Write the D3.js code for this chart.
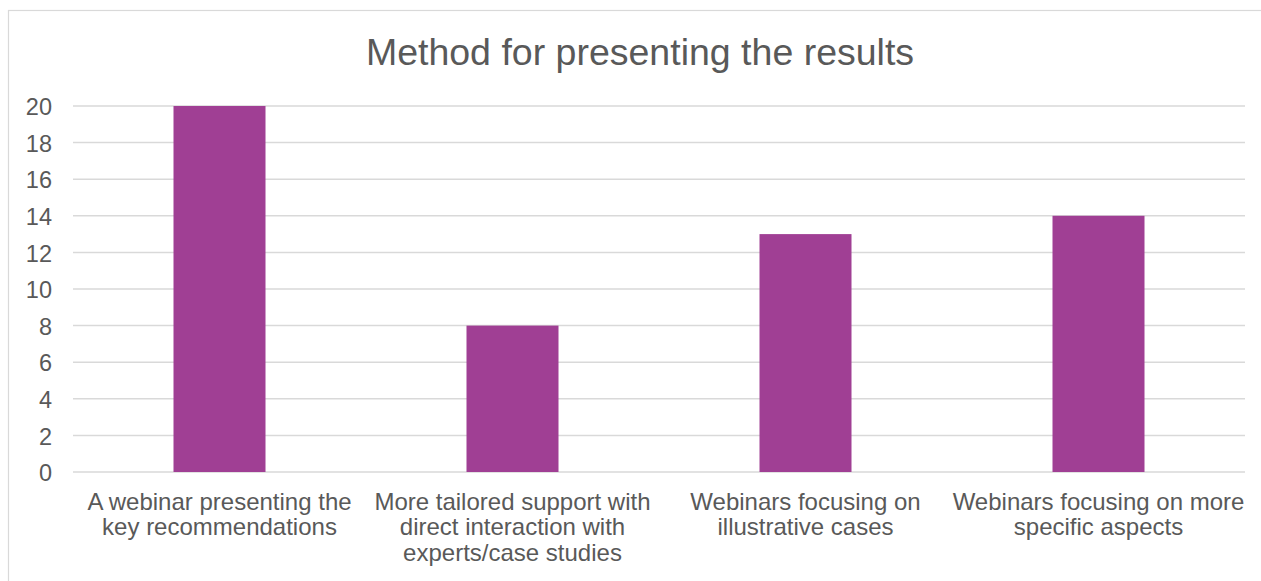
<!DOCTYPE html>
<html>
<head>
<meta charset="UTF-8">
<script src="https://d3js.org/d3.v7.min.js"></script>
<style>
  body { margin: 0; background: #fff; }
  svg text { font-family: "Liberation Sans", Arial, sans-serif; fill: #595959; }
</style>
</head>
<body>
<script>
// chart data
const categories = [
  ["A webinar presenting the", "key recommendations"],
  ["More tailored support with", "direct interaction with", "experts/case studies"],
  ["Webinars focusing on", "illustrative cases"],
  ["Webinars focusing on more", "specific aspects"]
];
const values = [20, 8, 13, 14];
const yTicks = [0, 2, 4, 6, 8, 10, 12, 14, 16, 18, 20];

const W = 1261, H = 581;
const plotLeft = 73, plotRight = 1245, plotTop = 106, plotBottom = 472;

const svg = d3.select("body").append("svg")
  .attr("width", W)
  .attr("height", H);

// chart frame (runs off right and bottom)
svg.append("rect")
  .attr("x", 8.5).attr("y", 10.5)
  .attr("width", W + 10).attr("height", H + 10)
  .attr("fill", "none")
  .attr("stroke", "#d9d9d9")
  .attr("stroke-width", 1.2);

svg.append("text")
  .attr("x", 640).attr("y", 65)
  .attr("text-anchor", "middle")
  .style("font-size", "37.5px")
  .text("Method for presenting the results");

const x = d3.scaleBand()
  .domain(d3.range(categories.length))
  .range([plotLeft, plotRight])
  .paddingInner(0.686)
  .paddingOuter(0.343);

const y = d3.scaleLinear()
  .domain([0, 20])
  .range([plotBottom, plotTop]);

// gridlines
svg.append("g")
  .selectAll("line")
  .data(yTicks)
  .join("line")
  .attr("x1", plotLeft).attr("x2", plotRight)
  .attr("y1", d => y(d)).attr("y2", d => y(d))
  .attr("stroke", "#d9d9d9")
  .attr("stroke-width", 1.5);

// y axis labels
const yAxis = svg.append("g")
  .attr("transform", "translate(" + (plotLeft - 21) + ",0)")
  .call(d3.axisLeft(y).tickValues(yTicks).tickSize(0).tickPadding(0));
yAxis.select(".domain").remove();
yAxis.selectAll("text")
  .attr("dy", "0.37em")
  .style("font-size", "23.5px")
  .style("font-family", "'Liberation Sans', Arial, sans-serif")
  .attr("fill", "#595959");

// bars
svg.append("g")
  .selectAll("rect")
  .data(values)
  .join("rect")
  .attr("x", (d, i) => x(i))
  .attr("y", d => y(d))
  .attr("width", x.bandwidth())
  .attr("height", d => y(0) - y(d))
  .attr("fill", "#a03f94");

// category labels
svg.append("g")
  .selectAll("text")
  .data(categories)
  .join("text")
  .attr("text-anchor", "middle")
  .style("font-size", "24px")
  .each(function(lines, i) {
    const cx = x(i) + x.bandwidth() / 2;
    d3.select(this).selectAll("tspan")
      .data(lines)
      .join("tspan")
      .attr("x", cx)
      .attr("y", (l, j) => 509.5 + j * 25.5)
      .text(l => l);
  });
</script>
</body>
</html>
